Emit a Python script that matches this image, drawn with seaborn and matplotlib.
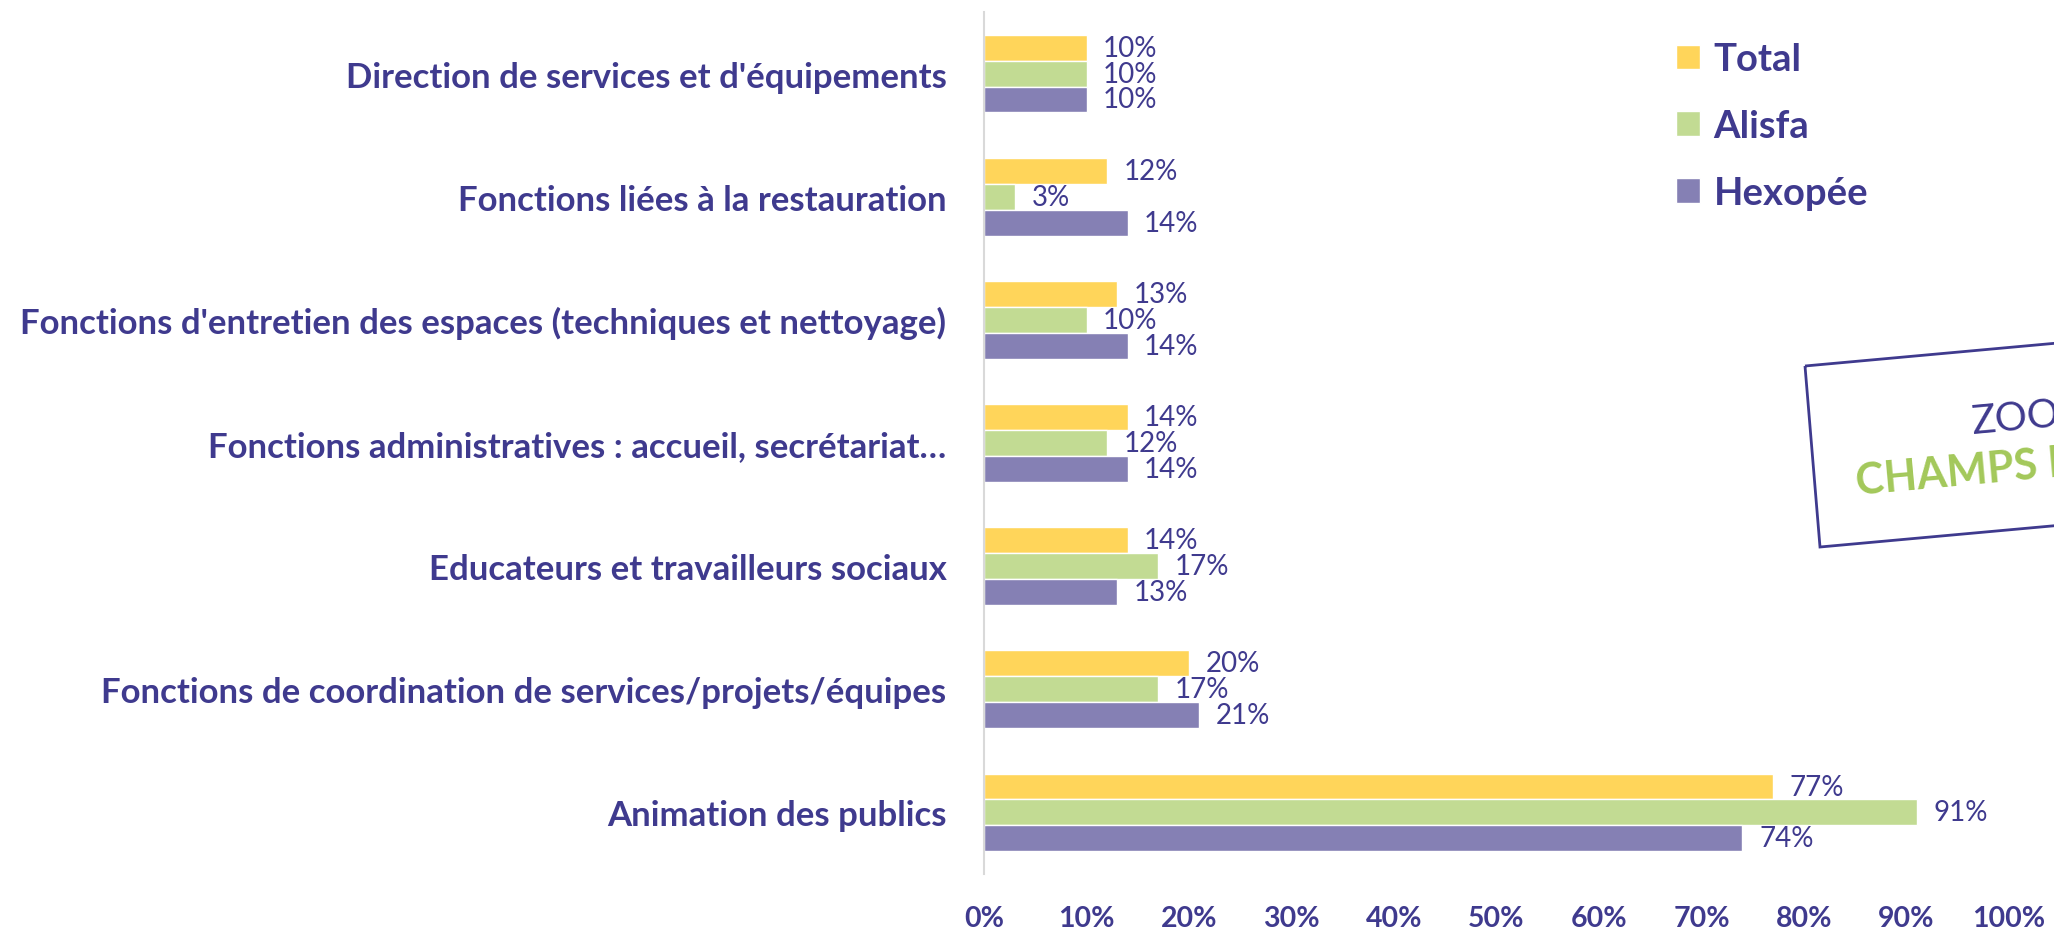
import matplotlib.pyplot as plt
import seaborn as sns
import pandas as pd
from matplotlib.patches import Polygon
from matplotlib.ticker import FuncFormatter, FixedLocator

# Data (top to bottom)
categories = [
    "Direction de services et d'équipements",
    "Fonctions liées à la restauration",
    "Fonctions d'entretien des espaces (techniques et nettoyage)",
    "Fonctions administratives : accueil, secrétariat…",
    "Educateurs et travailleurs sociaux",
    "Fonctions de coordination de services/projets/équipes",
    "Animation des publics",
]
series = ["Total", "Alisfa", "Hexopée"]
total = [0.10, 0.12, 0.13, 0.14, 0.14, 0.20, 0.77]
alisfa = [0.10, 0.03, 0.10, 0.12, 0.17, 0.17, 0.91]
hexopee = [0.10, 0.14, 0.14, 0.14, 0.13, 0.21, 0.74]
x_ticks = [0, 0.1, 0.2, 0.3, 0.4, 0.5, 0.6, 0.7, 0.8, 0.9, 1.0]

PURPLE = "#3F3A8E"
colors = ["#FFD55A", "#C2DB93", "#8580B4"]
GRID = "#D9D9D9"


def prepare_data():
    rows = []
    for name, vals in zip(series, [total, alisfa, hexopee]):
        for cat, v in zip(categories, vals):
            rows.append([cat, name, v])
    return pd.DataFrame(rows, columns=["Catégorie", "Série", "Valeur"])


df = prepare_data()

sns.set_style("white")
plt.rcParams["font.family"] = ["Lato", "DejaVu Sans"]

W, H = 2054, 929
fig = plt.figure(figsize=(W / 100, H / 100), dpi=100)
ax = fig.add_axes([984 / W, 1 - 875 / H, (2009 - 984) / W, 862 / H])

sns.barplot(
    data=df, y="Catégorie", x="Valeur", hue="Série", order=categories,
    hue_order=series, palette=colors, orient="h", width=0.63,
    errorbar=None, saturation=1, ax=ax, legend=True,
)

# value labels
for cont in ax.containers:
    ax.bar_label(cont, labels=[f"{v * 100:.0f}%" for v in cont.datavalues],
                 padding=12, fontsize=20, color=PURPLE)

ax.set_xlim(0, 1)
ax.set_ylim(6.5, -0.5)
ax.set_xlabel("")
ax.set_ylabel("")
ax.xaxis.set_major_locator(FixedLocator(x_ticks))
ax.xaxis.set_major_formatter(FuncFormatter(lambda x, _: f"{x * 100:.0f}%"))
ax.tick_params(axis="x", length=0, pad=22, labelsize=20.5, labelcolor=PURPLE)
for lab in ax.get_xticklabels():
    lab.set_fontweight("bold")

ax.tick_params(axis="y", which="major", length=0, pad=27, labelsize=25,
               labelcolor=PURPLE)
for lab in ax.get_yticklabels():
    lab.set_fontweight("bold")
ax.yaxis.set_minor_locator(FixedLocator([i - 0.5 for i in range(len(categories) + 1)]))
ax.tick_params(axis="y", which="minor", length=8, width=1.5, color=GRID)

for s in ["top", "right", "bottom"]:
    ax.spines[s].set_visible(False)
ax.spines["left"].set_color(GRID)
ax.spines["left"].set_linewidth(1.5)

# legend on the right
handles, labels = ax.get_legend_handles_labels()
ax.get_legend().remove()
leg = fig.legend(handles, labels, loc="upper left",
                 bbox_to_anchor=(1642 / W, 1 - 9 / H), frameon=False,
                 fontsize=27.5, handlelength=0.62, handleheight=0.62,
                 handletextpad=0.35, labelspacing=0.86)
for t in leg.get_texts():
    t.set_color(PURPLE)
    t.set_fontweight("bold")


# rotated box cut off at the right edge
def fpt(x, y):
    return (x / W, 1 - y / H)


box = Polygon([fpt(1805, 367), fpt(2300, 322), fpt(2316, 503), fpt(1820, 548)],
              closed=True, fill=False, edgecolor=PURPLE, linewidth=2,
              transform=fig.transFigure)
fig.patches.append(box)
fig.text(*fpt(1973, 434), "ZOOM", rotation=5.2, rotation_mode="anchor",
         ha="left", va="baseline", fontsize=29, color=PURPLE,
         fontweight="normal")
fig.text(*fpt(1857, 495), "CHAMPS D", rotation=5.2, rotation_mode="anchor",
         ha="left", va="baseline", fontsize=31, color="#A3C85A",
         fontweight="bold")

fig.savefig("out.png", dpi=100)
